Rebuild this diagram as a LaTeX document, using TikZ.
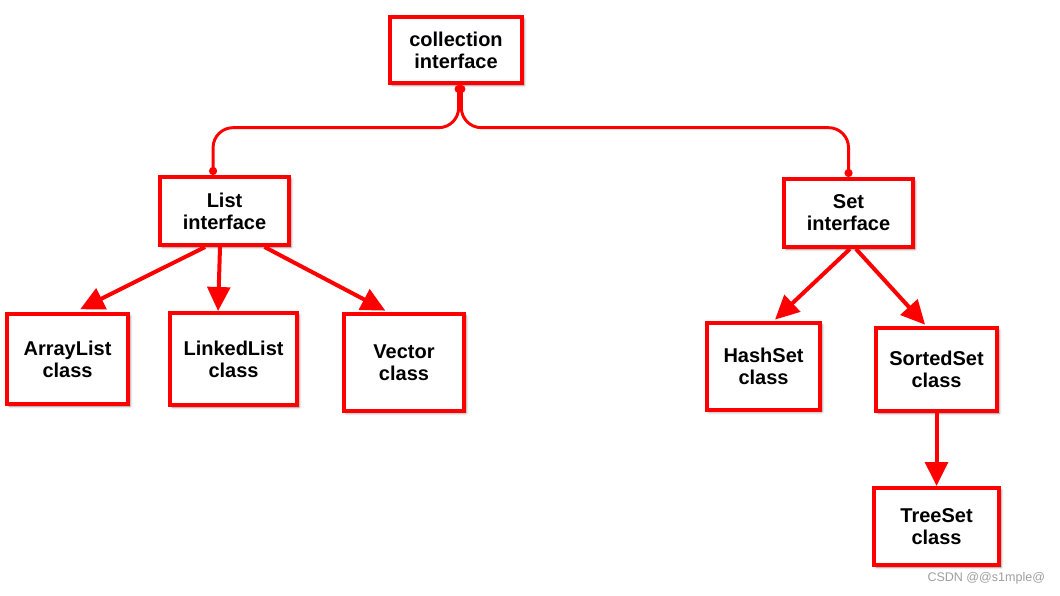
\documentclass[tikz,border=0pt]{standalone}
\usepackage{fontspec}
\setmainfont{Liberation Sans}
\usepackage{tikz}
\usetikzlibrary{positioning,shadows.blur,arrows.meta}

\tikzset{
  cls/.style={draw=red, line width=3pt, fill=white, align=center, inner sep=0pt,
    font=\bfseries\fontsize{15}{16.5}\selectfont,
    blur shadow={shadow xshift=1.5pt, shadow yshift=-1.5pt, shadow blur radius=2pt, shadow opacity=45}},
  link/.style={draw=red, line width=2.2pt, rounded corners=15pt, {Circle[length=6pt]}-{Circle[length=6pt]}},
  fat/.style={red, line width=3pt, -{Triangle[length=18pt,width=17pt]}},
}

\begin{document}
\begin{tikzpicture}[on grid, auto]
    \useasboundingbox (0,0) rectangle (795pt,-447pt);
    \node[cls, minimum width=99pt, minimum height=49.5pt] (coll) at (342pt,-37.5pt) {collection\\interface};
    \node[cls, minimum width=96.75pt, minimum height=51pt] (list) [below left=120.75pt and 173.6pt of coll] {List\\interface};
    \node[cls, minimum width=96.75pt, minimum height=51pt] (set) [below right=122.25pt and 294.4pt of coll] {Set\\interface};
    \node[cls, minimum width=90.75pt, minimum height=67.5pt] (arr) [below left=111pt and 117.75pt of list] {ArrayList\\class};
    \node[cls, minimum width=95.25pt, minimum height=69pt] (linked) [below right=111pt and 6.75pt of list] {LinkedList\\class};
    \node[cls, minimum width=90pt, minimum height=72.75pt] (vec) [below right=113.6pt and 134.6pt of list] {Vector\\class};
    \node[cls, minimum width=84.75pt, minimum height=65.25pt] (hash) [below left=115.1pt and 63.75pt of set] {HashSet\\class};
    \node[cls, minimum width=90.75pt, minimum height=62.25pt] (sorted) [below right=117.4pt and 66pt of set] {SortedSet\\class};
    \node[cls, minimum width=93.75pt, minimum height=57.75pt] (tree) [below=117.75pt of sorted] {TreeSet\\class};
    % interfaces
    \draw[link] ([xshift=2pt]coll.south) -- ++(0,-32pt) -| ([xshift=-8.6pt]list.north);
    \draw[link] ([xshift=4pt]coll.south) -- ++(0,-32pt) -| (set.north);
    % classes
    \path[fat]
    ([xshift=-14.6pt]list.south) edge ([xshift=9.4pt,yshift=2pt]arr.north)
    ([xshift=-3.4pt]list.south) edge ([xshift=-11.6pt]linked.north)
    ([xshift=30pt]list.south) edge ([xshift=-14pt,yshift=1pt]vec.north)
    ([xshift=1pt]set.south) edge ([xshift=8.6pt,yshift=1pt]hash.north)
    ([xshift=5.6pt]set.south) edge ([xshift=-8.6pt,yshift=1pt]sorted.north)
    (sorted.south) edge (tree.north);
    \node[anchor=east, text=black!38, font=\fontsize{9.4}{10}\selectfont, inner sep=0pt] (mark) at (784pt,-433.5pt) {CSDN @@s1mple@};
\end{tikzpicture}
\end{document}
